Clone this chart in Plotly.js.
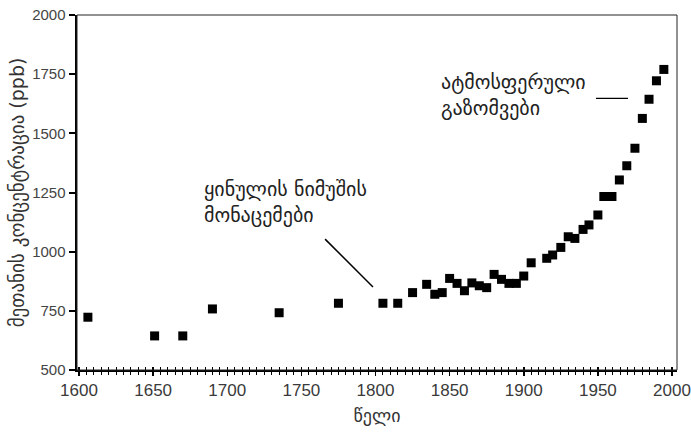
<!DOCTYPE html>
<html>
<head>
<meta charset="utf-8">
<script src="https://cdn.plot.ly/plotly-3.0.1.min.js"></script>
<style>html,body{margin:0;padding:0;background:#fff}#chart{width:691px;height:435px}</style>
</head>
<body>
<div id="chart"></div>
<script>
const years = [1606, 1651, 1670, 1690, 1735, 1775, 1805, 1815, 1825, 1834.5, 1840, 1845, 1850, 1855, 1860, 1865, 1870, 1875, 1880, 1885, 1890, 1895, 1900, 1905, 1915.5, 1919.5, 1925, 1930, 1934.5, 1940, 1944, 1950, 1954, 1959.5, 1964.5, 1969.5, 1975, 1980, 1984.5, 1989.5, 1994.5];
const methane = [723, 644, 644, 758, 742, 782, 782, 782, 827, 862, 820, 827, 887, 866, 835, 868, 856, 848, 904, 883, 866, 866, 897, 953, 972, 986, 1018, 1063, 1056, 1094, 1113, 1155, 1233, 1233, 1303, 1363, 1437, 1563, 1644, 1722, 1770];
const yTicks = [500, 750, 1000, 1250, 1500, 1750, 2000];
const xTicks = [1600, 1650, 1700, 1750, 1800, 1850, 1900, 1950, 2000];
const yTitle = "მეთანის კონცენტრაცია (ppb)";
const xTitle = "წელი";
const iceLabel = "ყინულის ნიმუშის<br>მონაცემები";
const atmLabel = "ატმოსფერული<br>გაზომვები";

const FONT = "Liberation Sans, DejaVu Sans, sans-serif";
const GEO = "DejaVu Sans, sans-serif";

const traces = [
  {x: years, y: methane, type: 'scatter', mode: 'markers',
   marker: {symbol: 'square', size: 9, color: '#000', line: {width: 0}},
   hoverinfo: 'skip', showlegend: false},
  {x: [], y: [], xaxis: 'x2', yaxis: 'y', type: 'scatter', showlegend: false}
];

const xr = [1598.65, 2003.37];
const layout = {
  width: 691, height: 435,
  margin: {l: 77, r: 14, t: 15, b: 65},
  paper_bgcolor: '#fff', plot_bgcolor: '#fff',
  font: {family: FONT, size: 14, color: '#333'},
  showlegend: false,
  xaxis: {
    range: xr, tickvals: xTicks, ticktext: xTicks.map(String),
    ticks: 'outside', ticklen: 4, tickwidth: 1.5, tickcolor: '#000',
    minor: {dtick: 5, tick0: 1600, ticks: 'outside', ticklen: 3, tickwidth: 1, tickcolor: '#000', showgrid: false},
    showline: true, linecolor: '#000', linewidth: 2,
    showgrid: false, zeroline: false,
    tickfont: {family: FONT, size: 17, color: '#3a3a3a'},
    title: {text: xTitle, font: {family: GEO, size: 18, color: '#333'}, standoff: 10}
  },
  xaxis2: {
    overlaying: 'x', range: xr, tickvals: xTicks, showticklabels: false,
    ticks: 'inside', ticklen: 3, tickwidth: 1.5, tickcolor: '#000',
    minor: {dtick: 5, tick0: 1600, ticks: 'inside', ticklen: 3, tickwidth: 1, tickcolor: '#000', showgrid: false},
    showline: false, showgrid: false, zeroline: false
  },
  yaxis: {
    range: [500, 2000], tickvals: yTicks, ticktext: yTicks.map(String),
    ticks: 'outside', ticklen: 6, tickwidth: 2, tickcolor: '#000',
    showline: true, linecolor: '#000', linewidth: 2.5,
    showgrid: false, zeroline: false,
    tickfont: {family: FONT, size: 15, color: '#444'},
    title: {text: yTitle, font: {family: GEO, size: 19, color: '#333'}, standoff: 3}
  },
  shapes: [
    {type: 'rect', xref: 'paper', yref: 'paper', x0: 0, x1: 1, y0: 0, y1: 1,
     line: {color: '#222', width: 1}},
    {type: 'line', xref: 'x', yref: 'y', x0: 1766, y0: 1053, x1: 1798.3, y1: 851,
     line: {color: '#000', width: 1.5}},
    {type: 'line', xref: 'x', yref: 'y', x0: 1948.7, y0: 1648, x1: 1970.3, y1: 1648,
     line: {color: '#000', width: 1.2}}
  ],
  annotations: [
    {x: 1683, y: 1208, xref: 'x', yref: 'y', xanchor: 'left', yanchor: 'middle', align: 'left',
     text: iceLabel, showarrow: false, font: {family: GEO, size: 20, color: '#222'}},
    {x: 1843, y: 1660, xref: 'x', yref: 'y', xanchor: 'left', yanchor: 'middle', align: 'left',
     text: atmLabel, showarrow: false, font: {family: GEO, size: 20, color: '#222'}}
  ]
};

Plotly.newPlot('chart', traces, layout, {displayModeBar: false, staticPlot: true});
</script>
</body>
</html>
